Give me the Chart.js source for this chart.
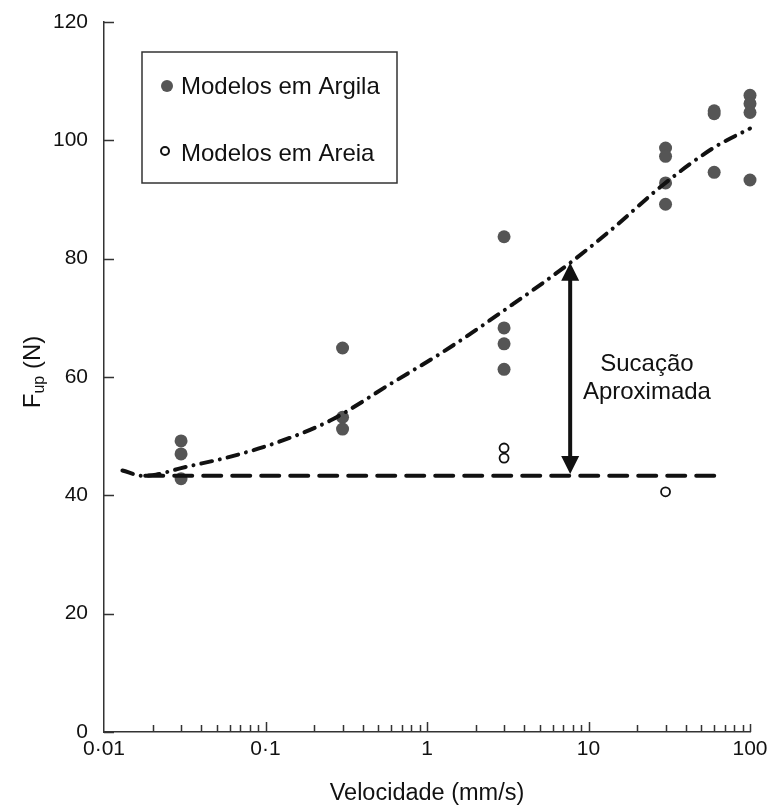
<!DOCTYPE html>
<html>
<head>
<meta charset="utf-8">
<title>Fup x Velocidade</title>
<script src="https://cdn.jsdelivr.net/npm/chart.js@4.4.1/dist/chart.umd.min.js"></script>
<style>
  html, body { margin: 0; padding: 0; background: #fff; }
</style>
</head>
<body>
<canvas id="chart" width="771" height="812"></canvas>
<script>
// Measured pull-out force (N) against velocity (mm/s)
const argilaX = [0.03, 0.03, 0.03, 0.3, 0.3, 0.3, 3, 3, 3, 3, 30, 30, 30, 30, 60, 60, 60, 100, 100, 100, 100];
const argilaY = [49.2, 47.0, 42.8, 64.9, 53.2, 51.2, 83.7, 68.3, 65.6, 61.3, 98.7, 97.3, 92.8, 89.2, 105.0, 104.5, 94.6, 107.6, 106.2, 104.7, 93.3];
const areiaX = [3, 3, 30];
const areiaY = [48.0, 46.3, 40.6];

// Sand baseline and clay trend
const baseX = [0.018, 67];
const baseY = [43.3, 43.3];
const trendX = [0.013, 0.0175, 0.021, 0.03, 0.06, 0.12, 0.25, 0.6, 1.3, 3.4, 7.7, 14, 29, 60, 100];
const trendY = [44.2, 43.3, 43.5, 44.6, 46.5, 49.0, 52.6, 58.9, 64.5, 72.3, 79.3, 85.0, 92.5, 98.8, 102.0];

// Suction arrow
const arrowX = 7.7;
const arrowY = [43.6, 79.3];
const noteX = 23;
const noteY = [62.2, 57.4];
const noteLines = ['Sucação', 'Aproximada'];

// Axes
const xTicks = [0.01, 0.1, 1, 10, 100];
const xTickLabels = ['0·01', '0·1', '1', '10', '100'];
const yTicks = [0, 20, 40, 60, 80, 100, 120];
const legendLabels = ['Modelos em Argila', 'Modelos em Areia'];

const FONT = '"Liberation Sans", Arial, sans-serif';
const INK = '#111';
const AXIS = '#333';
const GREY = '#555';

function pts(xs, ys) {
  return xs.map((x, i) => ({ x: x, y: ys[i] }));
}

// inward tick marks, arrow, note text, legend and y title
const extras = {
  id: 'extras',
  afterDatasetsDraw(chart) {
    const ctx = chart.ctx;
    const xs = chart.scales.x, ys = chart.scales.y;
    const left = chart.chartArea.left, bottom = chart.chartArea.bottom;

    ctx.save();
    ctx.strokeStyle = AXIS;
    ctx.lineWidth = 1.5;
    ctx.beginPath();
    yTicks.forEach(v => {
      const py = Math.round(ys.getPixelForValue(v)) + 0.5;
      ctx.moveTo(left, py);
      ctx.lineTo(left + 10, py);
    });
    xTicks.forEach((d, i) => {
      const px = Math.round(xs.getPixelForValue(d)) + 0.5;
      if (i > 0) {
        ctx.moveTo(px, bottom);
        ctx.lineTo(px, bottom - (i === xTicks.length - 1 ? 8 : 10));
      }
      if (i < xTicks.length - 1) {
        for (let k = 2; k <= 9; k++) {
          const mx = Math.round(xs.getPixelForValue(d * k)) + 0.5;
          ctx.moveTo(mx, bottom);
          ctx.lineTo(mx, bottom - 7);
        }
      }
    });
    ctx.stroke();

    // double-headed arrow
    const ax = xs.getPixelForValue(arrowX);
    const ay0 = ys.getPixelForValue(arrowY[0]);
    const ay1 = ys.getPixelForValue(arrowY[1]);
    const head = 18, half = 9;
    ctx.strokeStyle = INK;
    ctx.fillStyle = INK;
    ctx.lineWidth = 4;
    ctx.beginPath();
    ctx.moveTo(ax, ay0 - head + 2);
    ctx.lineTo(ax, ay1 + head - 2);
    ctx.stroke();
    ctx.beginPath();
    ctx.moveTo(ax, ay1);
    ctx.lineTo(ax - half, ay1 + head);
    ctx.lineTo(ax + half, ay1 + head);
    ctx.closePath();
    ctx.fill();
    ctx.beginPath();
    ctx.moveTo(ax, ay0);
    ctx.lineTo(ax - half, ay0 - head);
    ctx.lineTo(ax + half, ay0 - head);
    ctx.closePath();
    ctx.fill();

    // note
    ctx.font = '24px ' + FONT;
    ctx.textAlign = 'center';
    ctx.textBaseline = 'middle';
    noteLines.forEach((t, i) => {
      ctx.fillText(t, xs.getPixelForValue(noteX), ys.getPixelForValue(noteY[i]));
    });

    // legend box
    const bx = 142, by = 52, bw = 255, bh = 131;
    ctx.lineWidth = 1.5;
    ctx.strokeStyle = AXIS;
    ctx.fillStyle = '#fff';
    ctx.fillRect(bx, by, bw, bh);
    ctx.strokeRect(bx, by, bw, bh);
    ctx.fillStyle = GREY;
    ctx.beginPath();
    ctx.arc(167, 86, 6, 0, Math.PI * 2);
    ctx.fill();
    ctx.strokeStyle = INK;
    ctx.lineWidth = 2;
    ctx.fillStyle = '#fff';
    ctx.beginPath();
    ctx.arc(165, 151, 4, 0, Math.PI * 2);
    ctx.fill();
    ctx.stroke();
    ctx.fillStyle = INK;
    ctx.textAlign = 'left';
    ctx.font = '24px ' + FONT;
    ctx.fillText(legendLabels[0], 181, 87);
    ctx.fillText(legendLabels[1], 181, 154);

    // y title with subscript
    ctx.translate(31, 372);
    ctx.rotate(-Math.PI / 2);
    ctx.textAlign = 'left';
    ctx.textBaseline = 'alphabetic';
    ctx.font = '24px ' + FONT;
    const wF = ctx.measureText('F').width;
    ctx.font = '16px ' + FONT;
    const wS = ctx.measureText('up').width;
    ctx.font = '24px ' + FONT;
    const wN = ctx.measureText(' (N)').width;
    let tx = -(wF + wS + wN) / 2;
    ctx.fillText('F', tx, 9);
    tx += wF;
    ctx.font = '16px ' + FONT;
    ctx.fillText('up', tx, 13);
    tx += wS;
    ctx.font = '24px ' + FONT;
    ctx.fillText(' (N)', tx, 9);
    ctx.restore();
  }
};

new Chart(document.getElementById('chart'), {
  type: 'scatter',
  data: {
    datasets: [
      {
        label: 'trend',
        type: 'line',
        data: pts(trendX, trendY),
        borderColor: INK,
        borderWidth: 4,
        borderDash: [11, 8, 0.01, 8],
        borderCapStyle: 'round',
        cubicInterpolationMode: 'monotone',
        pointRadius: 0,
        fill: false,
        clip: false,
        order: 0
      },
      {
        label: 'base',
        type: 'line',
        data: pts(baseX, baseY),
        borderColor: INK,
        borderWidth: 4,
        borderDash: [18, 11],
        borderCapStyle: 'round',
        pointRadius: 0,
        fill: false,
        clip: false,
        order: 0
      },
      {
        label: legendLabels[0],
        data: pts(argilaX, argilaY),
        backgroundColor: GREY,
        borderWidth: 0,
        pointRadius: 6.5,
        clip: false,
        order: 1
      },
      {
        label: legendLabels[1],
        data: pts(areiaX, areiaY),
        backgroundColor: '#fff',
        borderColor: INK,
        borderWidth: 1.8,
        pointRadius: 4.5,
        clip: false,
        order: 1
      }
    ]
  },
  options: {
    responsive: false,
    animation: false,
    devicePixelRatio: 1,
    layout: { padding: { top: 22, right: 21, left: 0, bottom: 0 } },
    plugins: {
      legend: { display: false },
      tooltip: { enabled: false }
    },
    scales: {
      x: {
        type: 'logarithmic',
        min: 0.01,
        max: 100,
        grid: { display: false },
        border: { display: true, color: AXIS, width: 1.5 },
        afterBuildTicks: s => { s.ticks = xTicks.map(v => ({ value: v })); },
        afterFit: s => { s.height = 80; },
        ticks: {
          padding: -3,
          maxRotation: 0,
          autoSkip: false,
          color: INK,
          font: { family: FONT, size: 21 },
          callback: v => {
            const i = xTicks.indexOf(v);
            return i >= 0 ? xTickLabels[i] : '';
          }
        },
        title: {
          display: true,
          text: 'Velocidade (mm/s)',
          color: INK,
          font: { family: FONT, size: 23.5 },
          padding: { top: 18 }
        }
      },
      y: {
        min: 0,
        max: 120,
        grid: { display: false },
        border: { display: true, color: AXIS, width: 1.5 },
        afterFit: s => { s.width = 104; },
        ticks: {
          stepSize: 20,
          padding: 8,
          color: INK,
          font: { family: FONT, size: 21 }
        }
      }
    }
  },
  plugins: [extras]
});
</script>
</body>
</html>
